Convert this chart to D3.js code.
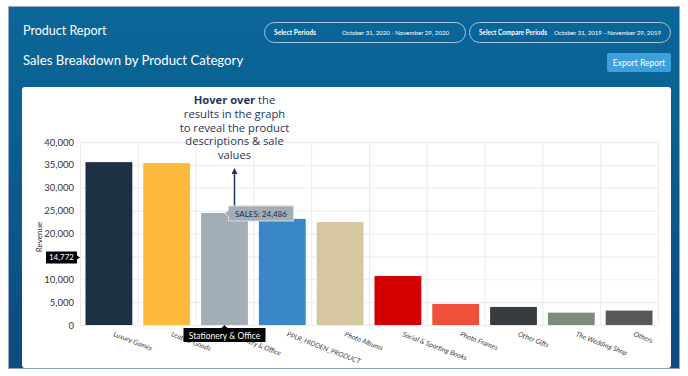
<!DOCTYPE html>
<html>
<head>
<meta charset="utf-8">
<script src="https://cdn.jsdelivr.net/npm/d3@7"></script>
<style>
  body { margin: 0; background: #fff; }
  svg { display: block; }
</style>
</head>
<body>
<div id="chart"></div>
<script>
// Chart data
const categories = ["Luxury Games", "Leather Goods", "Stationery & Office", "PPLR_HIDDEN_PRODUCT",
    "Photo Albums", "Social & Sporting Books", "Photo Frames", "Other Gifts", "The Wedding Shop", "Others"];
const revenue = [35600, 35400, 24486, 23200, 22500, 10700, 4600, 3950, 2700, 3150];
const barColors = ["#1d2f42", "#fdb93b", "#a2adb8", "#3a87c8", "#d6c7a0",
    "#d40000", "#ef503b", "#373c40", "#7e8c80", "#575757"];
const yTicks = [0, 5000, 10000, 15000, 20000, 25000, 30000, 35000, 40000];
// 15,000 sits under the hover tooltip, so no label for it
const yTickLabels = [0, 5000, 10000, 20000, 25000, 30000, 35000, 40000];
const noteLines = ["results in the graph", "to reveal the product", "descriptions & sale", "values"];

// Sizes
const width = 688, height = 376,
    margin = ({top: 142, right: 30, bottom: 51, left: 80});

const svg = d3.select("#chart")
    .append("svg")
    .attr("width", width)
    .attr("height", height);

// Background gradient for the blue panel
const defs = svg.append("defs");
const grad = defs.append("linearGradient")
    .attr("id", "bg").attr("x1", 0).attr("y1", 0).attr("x2", 0).attr("y2", 1);
grad.append("stop").attr("offset", "0%").attr("stop-color", "#0b6699");
grad.append("stop").attr("offset", "25%").attr("stop-color", "#0a6294");
grad.append("stop").attr("offset", "100%").attr("stop-color", "#0e4a7e");

svg.append("rect")
    .attr("x", 8.5).attr("y", 6.5).attr("width", 671).attr("height", 362)
    .attr("fill", "url(#bg)")
    .attr("stroke", "#9aa9bd");

// White card
svg.append("rect")
    .attr("x", 22).attr("y", 87).attr("width", 649).attr("height", 281)
    .attr("rx", 3)
    .attr("fill", "#fff");
svg.append("line")
    .attr("x1", 9).attr("x2", 679).attr("y1", 368.5).attr("y2", 368.5)
    .attr("stroke", "#8ea0b8");

// Header texts
svg.append("text")
    .attr("x", 23).attr("y", 35)
    .attr("fill", "#fff")
    .style("font", "12.5px Lato, sans-serif")
    .text("Product Report");

svg.append("text")
    .attr("x", 23).attr("y", 65)
    .attr("fill", "#fff")
    .style("font", "13.2px Lato, sans-serif")
    .text("Sales Breakdown by Product Category");

// Period pills
const pills = [
    {x: 264, label: "Select Periods", labelW: 42, value: "October 31, 2020 - November 29, 2020", valueX: 342},
    {x: 469, label: "Select Compare Periods", labelW: 68, value: "October 31, 2019 - November 29, 2019", valueX: 554}
];
for (let p of pills) {
    svg.append("rect")
        .attr("x", p.x + 0.5).attr("y", 22.5).attr("width", 201).attr("height", 20)
        .attr("rx", 10)
        .attr("fill", "none")
        .attr("stroke", "#a9c6dc");
    svg.append("text")
        .attr("x", p.x + 10).attr("y", 35)
        .attr("fill", "#fff")
        .attr("textLength", p.labelW)
        .attr("lengthAdjust", "spacingAndGlyphs")
        .style("font", "bold 6.5px Lato, sans-serif")
        .text(p.label);
    svg.append("text")
        .attr("x", p.valueX).attr("y", 35)
        .attr("fill", "#fff")
        .attr("textLength", 107)
        .attr("lengthAdjust", "spacingAndGlyphs")
        .style("font", "6.5px Lato, sans-serif")
        .text(p.value);
}

// Export button
svg.append("rect")
    .attr("x", 607).attr("y", 53).attr("width", 64).attr("height", 19)
    .attr("rx", 2)
    .attr("fill", "#3d9fdc");
svg.append("text")
    .attr("x", 639).attr("y", 66)
    .attr("text-anchor", "middle")
    .attr("fill", "#fff")
    .style("font", "8.5px Lato, sans-serif")
    .text("Export Report");

// Scales
const x = d3.scaleBand()
    .domain(categories)
    .range([margin.left, width - margin.right])
    .paddingInner(0.19)
    .paddingOuter(0.095);

const xGrid = d3.scaleBand()
    .domain(categories)
    .range([margin.left, width - margin.right]);

const y = d3.scaleLinear()
    .domain([0, 40000])
    .range([height - margin.bottom, margin.top]);

// Grid lines
svg.append("g")
    .selectAll("line")
    .data(yTicks)
    .join("line")
    .attr("x1", margin.left).attr("x2", width - margin.right)
    .attr("y1", d => y(d) + 0.5).attr("y2", d => y(d) + 0.5)
    .attr("stroke", "#ebebeb");

svg.append("g")
    .selectAll("line")
    .data(categories.concat(["end"]))
    .join("line")
    .attr("x1", (d, i) => (i < categories.length ? xGrid(d) : width - margin.right) + 0.5)
    .attr("x2", (d, i) => (i < categories.length ? xGrid(d) : width - margin.right) + 0.5)
    .attr("y1", margin.top).attr("y2", height - margin.bottom)
    .attr("stroke", "#ebebeb");

// Bars
svg.append("g")
    .selectAll("rect")
    .data(categories)
    .join("rect")
    .attr("x", d => x(d))
    .attr("y", (d, i) => y(revenue[i]))
    .attr("width", x.bandwidth())
    .attr("height", (d, i) => y(0) - y(revenue[i]))
    .attr("fill", (d, i) => barColors[i]);

// Y axis
svg.append("g")
    .attr("transform", `translate(${margin.left - 3},0)`)
    .call(d3.axisLeft(y).tickValues(yTickLabels).tickSize(0).tickFormat(d3.format(",")))
    .call(g => g.select(".domain").remove())
    .call(g => g.selectAll("text")
        .attr("fill", "#333")
        .style("font", "9.5px Lato, sans-serif"));

svg.append("text")
    .attr("transform", "rotate(-90)")
    .attr("x", -237).attr("y", 42)
    .attr("text-anchor", "middle")
    .attr("fill", "#333")
    .style("font", "8px Lato, sans-serif")
    .text("Revenue");

// X labels
svg.append("g")
    .selectAll("text")
    .data(categories)
    .join("text")
    .attr("transform", d => `translate(${xGrid(d) + xGrid.bandwidth() / 2 + 4},${height - margin.bottom + 11}) rotate(21)`)
    .attr("fill", "#444")
    .style("font", "italic 7px Lato, sans-serif")
    .text(d => d);

// Annotation with arrow
const noteX = x("Stationery & Office") + x.bandwidth() / 2 + 10;
svg.append("text")
    .attr("x", noteX).attr("y", 104)
    .attr("text-anchor", "middle")
    .attr("fill", "#233659")
    .style("font", "11.2px 'Open Sans', sans-serif")
    .call(t => t.append("tspan").attr("font-weight", "bold").text("Hover over"))
    .call(t => t.append("tspan").text(" the"));
svg.append("g")
    .selectAll("text")
    .data(noteLines)
    .join("text")
    .attr("x", noteX)
    .attr("y", (d, i) => 118 + i * 13.6)
    .attr("text-anchor", "middle")
    .attr("fill", "#233659")
    .style("font", "11.2px 'Open Sans', sans-serif")
    .text(d => d);

defs.append("marker")
    .attr("id", "arrow")
    .attr("viewBox", "0 0 10 10")
    .attr("refX", 5).attr("refY", 5)
    .attr("markerWidth", 4).attr("markerHeight", 4)
    .attr("orient", "auto")
    .append("path")
    .attr("d", "M0,0L10,5L0,10z")
    .attr("fill", "#1f3461");

svg.append("line")
    .attr("x1", noteX).attr("x2", noteX)
    .attr("y1", y(24486) - 4).attr("y2", 171)
    .attr("stroke", "#1f3461")
    .attr("stroke-width", 1.5)
    .attr("marker-end", "url(#arrow)");

// Sales tooltip
const salesX = noteX - 6, salesY = y(24486) - 7;
svg.append("path")
    .attr("d", `M${salesX},${salesY}h65v15h-65v-4.5l-4,-3l4,-3z`)
    .attr("fill", "#a2adb8")
    .attr("stroke", "#d8dde2");
svg.append("text")
    .attr("x", salesX + 32.5).attr("y", salesY + 11)
    .attr("text-anchor", "middle")
    .attr("fill", "#1c2b3a")
    .style("font", "8px Lato, sans-serif")
    .text("SALES: " + d3.format(",")(24486));

// Y hover tooltip
const hoverY = y(14772);
svg.append("path")
    .attr("d", `M46,${hoverY - 6}h31v4l3,2l-3,2v4h-31z`)
    .attr("fill", "#000");
svg.append("text")
    .attr("x", 61.5).attr("y", hoverY + 3)
    .attr("text-anchor", "middle")
    .attr("fill", "#fff")
    .style("font", "8px Lato, sans-serif")
    .text(d3.format(",")(14772));

// Category tooltip
const catX = x("Stationery & Office") + x.bandwidth() / 2;
svg.append("path")
    .attr("d", `M${catX - 41},328h38l3,-3l3,3h38v14h-82z`)
    .attr("fill", "#000");
svg.append("text")
    .attr("x", catX).attr("y", 338.5)
    .attr("text-anchor", "middle")
    .attr("fill", "#fff")
    .style("font", "8.5px Lato, sans-serif")
    .text("Stationery & Office");
</script>
</body>
</html>
